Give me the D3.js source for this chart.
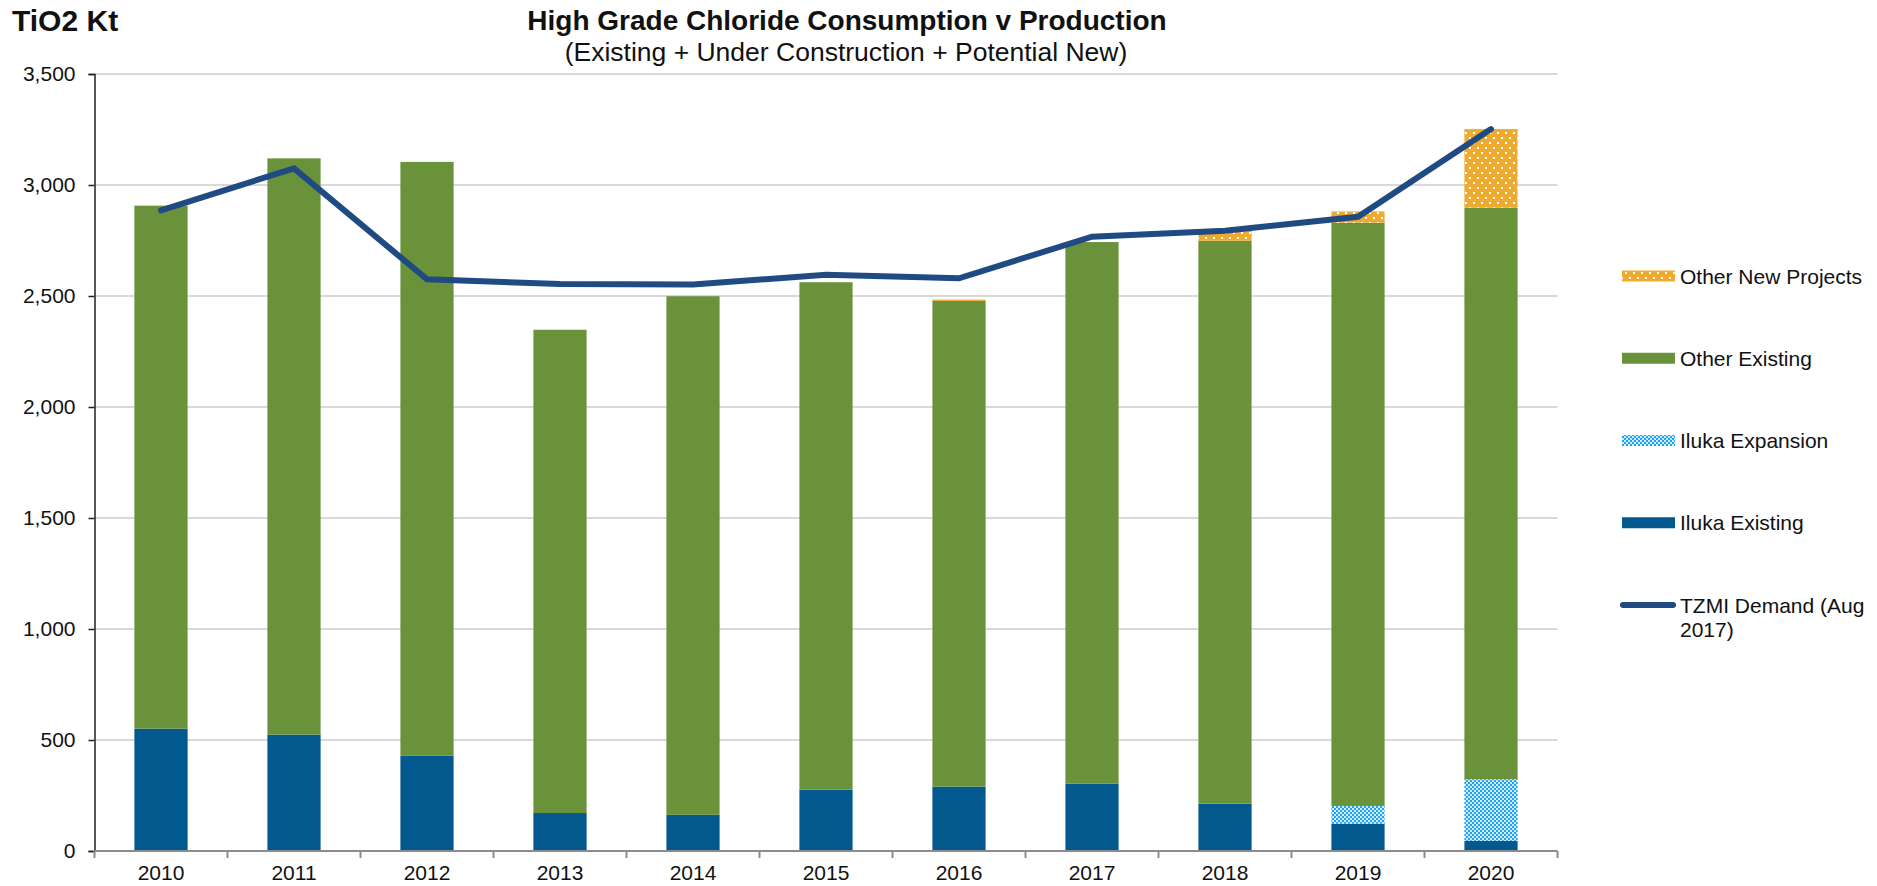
<!DOCTYPE html>
<html>
<head>
<meta charset="utf-8">
<script src="https://cdn.jsdelivr.net/npm/d3@7"></script>
<style>
  html, body { margin: 0; padding: 0; background: #ffffff; }
  svg { display: block; font-family: "Liberation Sans", Arial, sans-serif; }
</style>
</head>
<body>
<svg id="chart" width="1877" height="886"></svg>
<script>
// ---- Data ----
const years = ["2010","2011","2012","2013","2014","2015","2016","2017","2018","2019","2020"];
const ilukaExisting   = [551, 524, 429, 171, 163, 276, 290, 303, 213, 123, 46];
const ilukaExpansion  = [0, 0, 0, 0, 0, 0, 0, 0, 0, 80, 278];
const otherExisting   = [2356, 2596, 2675, 2177, 2336, 2286, 2188, 2440, 2536, 2627, 2574];
const otherNew        = [0, 0, 0, 0, 0, 0, 6, 0, 48, 51, 354];
const tzmiDemand      = [2886, 3075, 2575, 2554, 2552, 2596, 2580, 2767, 2794, 2857, 3252];
const yTicks = [0, 500, 1000, 1500, 2000, 2500, 3000, 3500];
const seriesKeys = ["Iluka Existing", "Iluka Expansion", "Other Existing", "Other New Projects"];
const legendItems = ["Other New Projects", "Other Existing", "Iluka Expansion", "Iluka Existing", "TZMI Demand (Aug|2017)"];
const titleText = "High Grade Chloride Consumption v Production";
const subtitleText = "(Existing + Under Construction + Potential New)";
const yUnitText = "TiO2 Kt";

const table = years.map((yr, i) => ({
  year: yr,
  "Iluka Existing": ilukaExisting[i],
  "Iluka Expansion": ilukaExpansion[i],
  "Other Existing": otherExisting[i],
  "Other New Projects": otherNew[i]
}));

(function draw() {
  const svg = d3.select("#chart");
  const mLeft = 94.5, mRight = 1557.5, mTop = 74, mBottom = 851;
  const x = d3.scaleBand().domain(years).range([mLeft, mRight]).paddingInner(0.6).paddingOuter(0.3);
  const xb = d3.scaleBand().domain(years).range([mLeft, mRight]).padding(0);
  const y = d3.scaleLinear().domain([0, 3500]).range([mBottom, mTop]);

  const colors = {
    "Iluka Existing": "#02598E",
    "Iluka Expansion": "url(#pat-exp)",
    "Other Existing": "#6A923A",
    "Other New Projects": "url(#pat-new)"
  };
  const lineColor = "#1F4B82";

  const defs = svg.append("defs");
  const pNew = defs.append("pattern").attr("id", "pat-new").attr("patternUnits", "userSpaceOnUse")
    .attr("width", 8).attr("height", 10);
  pNew.append("rect").attr("width", 8).attr("height", 10).attr("fill", "#EEAB30");
  pNew.append("rect").attr("x", 1).attr("y", 2).attr("width", 2).attr("height", 2).attr("fill", "#ffffff");
  pNew.append("rect").attr("x", 5).attr("y", 7).attr("width", 2).attr("height", 2).attr("fill", "#ffffff");

  const pExp = defs.append("pattern").attr("id", "pat-exp").attr("patternUnits", "userSpaceOnUse")
    .attr("width", 4).attr("height", 4);
  pExp.append("rect").attr("width", 4).attr("height", 4).attr("fill", "#1FA2F0");
  pExp.append("rect").attr("x", 0).attr("y", 0).attr("width", 2).attr("height", 2).attr("fill", "#ffffff").attr("opacity", 0.8);
  pExp.append("rect").attr("x", 2).attr("y", 2).attr("width", 2).attr("height", 2).attr("fill", "#ffffff").attr("opacity", 0.8);

  // Gridlines
  svg.append("g").selectAll("line").data(yTicks.filter(d => d > 0)).join("line")
    .attr("x1", mLeft).attr("x2", mRight)
    .attr("y1", d => y(d)).attr("y2", d => y(d))
    .attr("stroke", "#D9D9D9").attr("stroke-width", 2);

  // Bars
  const stacked = d3.stack().keys(seriesKeys)(table);
  svg.append("g").selectAll("g").data(stacked).join("g")
    .attr("fill", d => colors[d.key])
    .selectAll("rect").data(d => d.filter(v => v[1] - v[0] > 0)).join("rect")
    .attr("x", d => x(d.data.year))
    .attr("width", x.bandwidth())
    .attr("y", d => y(d[1]))
    .attr("height", d => y(d[0]) - y(d[1]));

  // Y axis
  const yAxis = d3.axisLeft(y).tickValues(yTicks).tickFormat(d3.format(",")).tickSize(6).tickPadding(13);
  const gy = svg.append("g").attr("transform", `translate(${mLeft},0)`).call(yAxis);
  gy.select(".domain").attr("stroke", "#222").attr("stroke-width", 1.5);
  gy.selectAll(".tick line").attr("stroke", "#222").attr("stroke-width", 1.5);
  gy.selectAll(".tick text").attr("font-size", 21).attr("fill", "#111")
    .attr("font-family", "Liberation Sans, Arial, sans-serif");

  // X axis
  const gx = svg.append("g").attr("transform", `translate(0,${mBottom})`);
  gx.append("line").attr("x1", mLeft).attr("x2", mRight).attr("y1", 0).attr("y2", 0)
    .attr("stroke", "#8C8C8C").attr("stroke-width", 2);
  const boundaries = years.map(d => xb(d)).concat([xb(years[years.length - 1]) + xb.bandwidth()]);
  gx.selectAll("line.tk").data(boundaries).join("line").attr("class", "tk")
    .attr("x1", d => d).attr("x2", d => d).attr("y1", 0).attr("y2", 7)
    .attr("stroke", "#8C8C8C").attr("stroke-width", 2);
  gx.selectAll("text").data(years).join("text")
    .attr("x", d => xb(d) + xb.bandwidth() / 2)
    .attr("y", 29)
    .attr("text-anchor", "middle")
    .attr("font-size", 21).attr("fill", "#111")
    .text(d => d);

  // Demand line
  const line = d3.line().x((d, i) => x(years[i]) + x.bandwidth() / 2).y(d => y(d));
  svg.append("path").datum(tzmiDemand)
    .attr("d", line)
    .attr("fill", "none").attr("stroke", lineColor).attr("stroke-width", 6)
    .attr("stroke-linecap", "round").attr("stroke-linejoin", "miter");

  // Titles
  svg.append("text").attr("x", 847).attr("y", 30).attr("text-anchor", "middle")
    .attr("font-size", 28).attr("font-weight", "bold").attr("fill", "#111").text(titleText);
  svg.append("text").attr("x", 846).attr("y", 61).attr("text-anchor", "middle")
    .attr("font-size", 26.5).attr("fill", "#111").text(subtitleText);
  svg.append("text").attr("x", 12).attr("y", 31)
    .attr("font-size", 30).attr("font-weight", "bold").attr("fill", "#111").text(yUnitText);

  // Legend
  const legend = svg.append("g");
  const legY = d3.scalePoint().domain(legendItems).range([276, 605]);
  legendItems.forEach(item => {
    const cy = legY(item);
    if (colors[item]) {
      legend.append("rect").attr("x", 1622).attr("y", cy - 5.5).attr("width", 53).attr("height", 11)
        .attr("fill", colors[item]);
    } else {
      legend.append("line").attr("x1", 1623).attr("x2", 1673).attr("y1", cy).attr("y2", cy)
        .attr("stroke", lineColor).attr("stroke-width", 6).attr("stroke-linecap", "round");
    }
    const t = legend.append("text").attr("x", 1680).attr("y", cy + 7.5)
      .attr("font-size", 21).attr("fill", "#111");
    item.split("|").forEach((p, k) => {
      t.append("tspan").attr("x", 1680).attr("dy", k === 0 ? 0 : 24).text(p);
    });
  });
})();
</script>
</body>
</html>
